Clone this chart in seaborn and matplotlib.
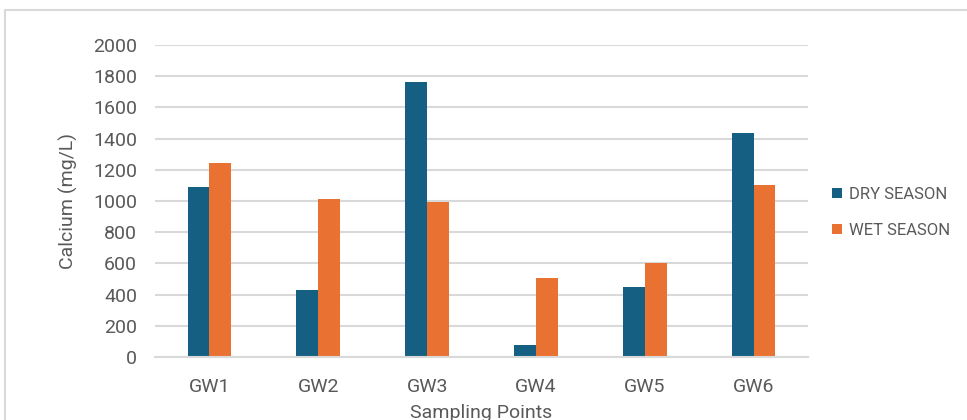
import matplotlib
matplotlib.use("Agg")
import matplotlib.pyplot as plt
from matplotlib.patches import Rectangle
import seaborn as sns
import pandas as pd

# Calcium concentration per sampling point, by season (mg/L)
points = ["GW1", "GW2", "GW3", "GW4", "GW5", "GW6"]
dry_season = [1090, 430, 1765, 80, 450, 1435]
wet_season = [1245, 1010, 995, 505, 605, 1105]
seasons = ["DRY SEASON", "WET SEASON"]
y_ticks = [0, 200, 400, 600, 800, 1000, 1200, 1400, 1600, 1800, 2000]

df = pd.DataFrame({
    "Sampling Points": points * 2,
    "Calcium (mg/L)": dry_season + wet_season,
    "Season": [seasons[0]] * len(points) + [seasons[1]] * len(points),
})

sns.set_theme(style="white")
plt.rcParams["font.family"] = ["Roboto", "DejaVu Sans"]
text_color = "#595959"
grid_color = "#D9D9D9"
font_size = 14
legend_size = 12

fig = plt.figure(figsize=(9.67, 4.2), dpi=100)
ax = fig.add_axes([155 / 967, 1 - 357 / 420, (808 - 155) / 967, (357 - 45) / 420])

sns.barplot(
    data=df, x="Sampling Points", y="Calcium (mg/L)", hue="Season",
    palette=["#156082", "#E97132"], width=0.4, gap=0, saturation=1,
    linewidth=0, ax=ax,
)

ax.set_ylim(0, 2000)
ax.set_yticks(y_ticks)
ax.set_yticklabels([str(t) for t in y_ticks])
ax.yaxis.grid(True, color=grid_color, linewidth=1.5)
ax.set_axisbelow(True)
for side in ["top", "right", "left"]:
    ax.spines[side].set_visible(False)
ax.spines["bottom"].set_color(grid_color)
ax.spines["bottom"].set_linewidth(1.5)
ax.tick_params(axis="both", length=0, labelsize=font_size, colors=text_color)
ax.tick_params(axis="y", pad=13)
ax.tick_params(axis="x", pad=15)
ax.set_xlabel("Sampling Points", fontsize=font_size, color=text_color, labelpad=6)
ax.set_ylabel("Calcium (mg/L)", fontsize=font_size, color=text_color, labelpad=11)

handles, labels = ax.get_legend_handles_labels()
ax.get_legend().remove()
fig.legend(
    handles, labels, loc="center left", bbox_to_anchor=(832 / 967, 1 - 212.5 / 420),
    frameon=False, fontsize=legend_size, labelcolor=text_color,
    borderpad=0, borderaxespad=0,
    handlelength=0.6, handleheight=0.6, handletextpad=0.4, labelspacing=1.25,
)

# chart area border
fig.patches.append(Rectangle(
    (5 / 967, -0.2), 1.2, 1.2 - 10 / 420, transform=fig.transFigure,
    fill=False, edgecolor=grid_color, linewidth=1.5, zorder=0,
))

fig.savefig("out.png", dpi=100)
